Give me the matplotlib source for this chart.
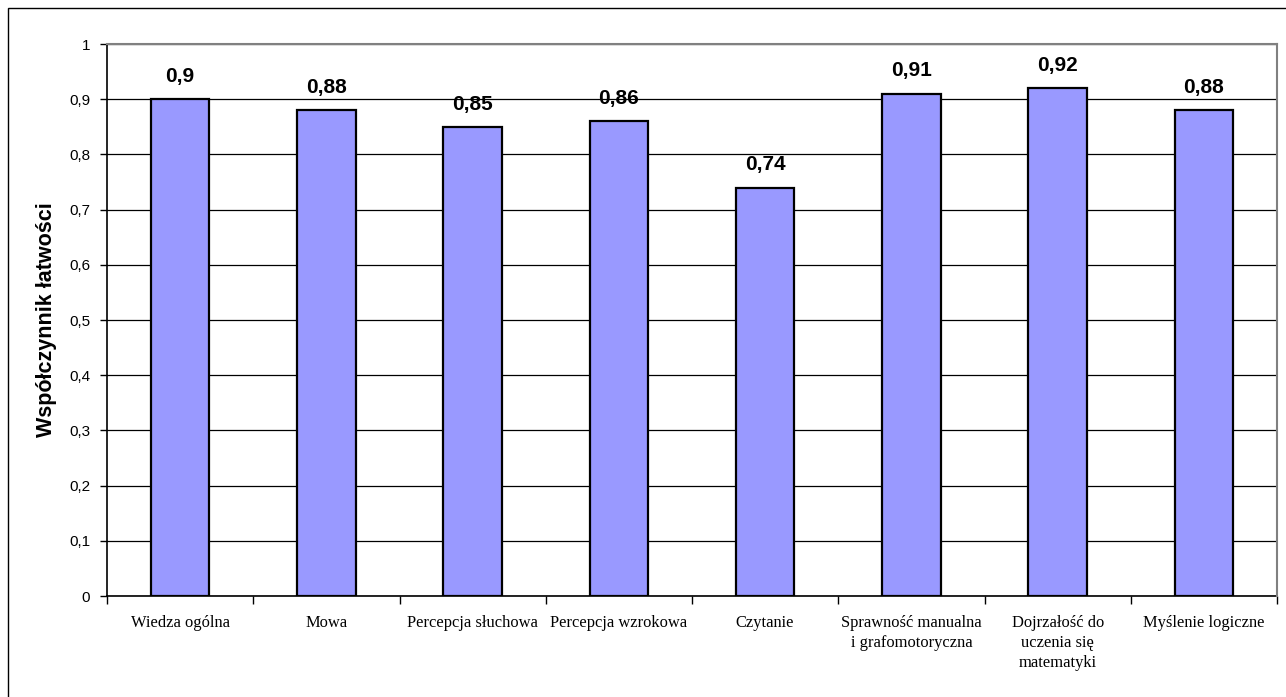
import matplotlib
matplotlib.use("Agg")
import matplotlib.pyplot as plt
from matplotlib.patches import Rectangle
import numpy as np

categories = ["Wiedza ogólna", "Mowa", "Percepcja słuchowa", "Percepcja wzrokowa",
              "Czytanie", "Sprawność manualna\ni grafomotoryczna",
              "Dojrzałość do\nuczenia się\nmatematyki", "Myślenie logiczne"]
values = [0.9, 0.88, 0.85, 0.86, 0.74, 0.91, 0.92, 0.88]
value_labels = ["0,9", "0,88", "0,85", "0,86", "0,74", "0,91", "0,92", "0,88"]
yticks = [0, 0.1, 0.2, 0.3, 0.4, 0.5, 0.6, 0.7, 0.8, 0.9, 1.0]
ytick_labels = ["0", "0,1", "0,2", "0,3", "0,4", "0,5", "0,6", "0,7", "0,8", "0,9", "1"]
ylabel = "Współczynnik łatwości"

W, H = 1286, 697
fig = plt.figure(figsize=(W / 100, H / 100), dpi=100)
fig.patch.set_facecolor("white")

# outer chart border
fig.patches.append(Rectangle((8 / W, -0.02), 1.05, 1 - 8 / H + 0.02,
                             transform=fig.transFigure, fill=False,
                             edgecolor="black", linewidth=1.0))

left, right, top, bottom = 107, 1277, 44, 596
ax = fig.add_axes([left / W, 1 - bottom / H, (right - left) / W, (bottom - top) / H])

x = np.arange(len(categories))
bars = ax.bar(x, values, width=0.4, color="#9999FF", edgecolor="black",
              linewidth=1.6, zorder=3)

ax.set_xlim(-0.5, len(categories) - 0.5)
ax.set_ylim(0, 1)
ax.set_yticks(yticks)
ax.set_yticklabels(ytick_labels, fontfamily="Liberation Sans", fontsize=11)
ax.set_axisbelow(True)
ax.yaxis.grid(True, color="black", linewidth=0.9)

ax.set_xticks(x)
ax.set_xticklabels(categories, fontfamily="Liberation Serif", fontsize=11.9,
                   linespacing=1.3, va="top")
ax.tick_params(axis="x", which="major", length=0, pad=14)
ax.set_xticks(np.arange(len(categories) + 1) - 0.5, minor=True)
ax.tick_params(axis="x", which="minor", length=6, width=1, direction="out", color="black")
ax.tick_params(axis="y", length=5, width=1, direction="out", pad=7)

for s in ["left", "bottom"]:
    ax.spines[s].set_color("black")
    ax.spines[s].set_linewidth(1.2)
for s in ["top", "right"]:
    ax.spines[s].set_color("#808080")
    ax.spines[s].set_linewidth(1.5)
    ax.spines[s].set_zorder(4)

for xi, v, lab in zip(x, values, value_labels):
    ax.annotate(lab, (xi, v), xytext=(0, 9.5), textcoords="offset points",
                ha="center", va="bottom", fontfamily="Liberation Sans",
                fontweight="bold", fontsize=15)

ax.set_ylabel(ylabel, fontfamily="Liberation Sans", fontweight="bold", fontsize=15.5)
ax.yaxis.set_label_coords(-0.0427, 0.5)

fig.savefig("out.png", dpi=100)
